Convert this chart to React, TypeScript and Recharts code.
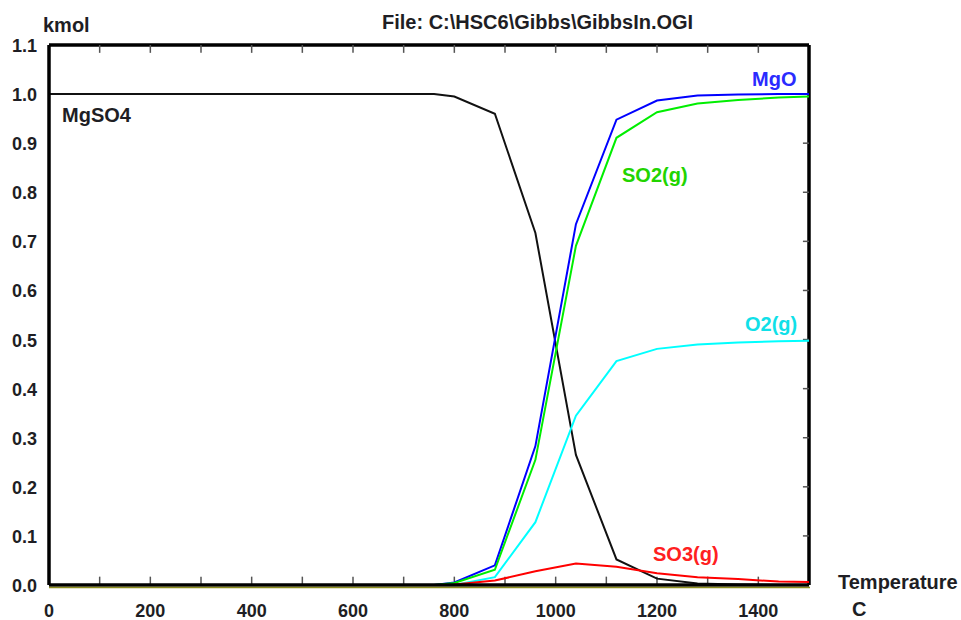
import React from 'react';
import { LineChart, Line, XAxis, YAxis, ReferenceLine } from 'recharts';

// temperatures (C) and amounts (kmol)
const temps = [0, 80, 160, 240, 320, 400, 480, 560, 640, 720, 760, 800, 880, 960, 1040, 1120, 1200, 1280, 1360, 1440, 1500];
const mgso4 = [1, 1, 1, 1, 1, 1, 1, 1, 1, 1, 1, 0.995, 0.96, 0.717, 0.265, 0.052, 0.013, 0.003, 0.001, 0, 0];
const mgo = [null, null, null, null, null, null, null, null, null, null, 0, 0.005, 0.04, 0.283, 0.735, 0.948, 0.987, 0.997, 0.999, 1, 1];
const so2 = [null, null, null, null, null, null, null, null, null, null, 0, 0.004, 0.031, 0.255, 0.691, 0.911, 0.963, 0.981, 0.988, 0.993, 0.995];
const o2 = [null, null, null, null, null, null, null, null, null, null, null, 0, 0.016, 0.128, 0.345, 0.456, 0.481, 0.49, 0.494, 0.4965, 0.4975];
const so3 = [null, null, null, null, null, null, null, null, null, null, null, 0.001, 0.009, 0.028, 0.044, 0.037, 0.024, 0.016, 0.012, 0.007, 0.006];

const xTicks = [0, 200, 400, 600, 800, 1000, 1200, 1400];
const xMinor = [100, 200, 300, 400, 500, 600, 700, 800, 900, 1000, 1100, 1200, 1300, 1400];
const yTicks = [0, 0.1, 0.2, 0.3, 0.4, 0.5, 0.6, 0.7, 0.8, 0.9, 1.0, 1.1];
const yMinor = [0.1, 0.2, 0.3, 0.4, 0.5, 0.6, 0.7, 0.8, 0.9, 1.0];

const data = temps.map((t, i) => ({
  t,
  MgSO4: mgso4[i],
  MgO: mgo[i],
  SO2: so2[i],
  O2: o2[i],
  SO3: so3[i],
}));

const FONT = '"Liberation Sans", Arial, sans-serif';
const TXT = '#1e1e24';
const axisStyle = { stroke: '#000', strokeWidth: 3.5 };
const MARK = '#555';

const BottomTick = ({ x, y, payload }: any) => (
  <text x={x} y={y + 32} textAnchor="middle" fontFamily={FONT} fontWeight="bold" fontSize={18} fill={TXT}>
    {payload.value}
  </text>
);

const LeftTick = ({ x, y, payload }: any) => (
  <text x={x - 12} y={y + 7} textAnchor="end" fontFamily={FONT} fontWeight="bold" fontSize={18} fill={TXT}>
    {payload.value.toFixed(1)}
  </text>
);

const labels = [
  { text: 'kmol', x: 43, y: 32, color: TXT },
  { text: 'File: C:\\HSC6\\Gibbs\\GibbsIn.OGI', x: 382, y: 29, color: TXT },
  { text: 'MgSO4', x: 62, y: 122, color: TXT },
  { text: 'MgO', x: 752, y: 86, color: '#2b2bff' },
  { text: 'SO2(g)', x: 622, y: 182, color: '#22d400' },
  { text: 'O2(g)', x: 745, y: 331, color: '#10e0e8' },
  { text: 'SO3(g)', x: 653, y: 561, color: '#ff2020' },
  { text: 'Temperature', x: 838, y: 589, color: TXT },
  { text: 'C', x: 852, y: 616, color: TXT },
];

export default function App() {
  return (
    <div style={{ position: 'absolute', left: 0, top: 0, width: 961, height: 620, background: '#fff' }}>
      <LineChart width={961} height={620} data={data} margin={{ top: 45, right: 152, bottom: 0, left: 0 }}>
        <XAxis
          dataKey="t"
          type="number"
          domain={[0, 1500]}
          ticks={xTicks}
          interval={0}
          height={35}
          tickSize={0}
          tickMargin={0}
          tickLine={false}
          tick={<BottomTick />}
          axisLine={axisStyle}
        />
        <YAxis
          type="number"
          domain={[0, 1.1]}
          ticks={yTicks}
          interval={0}
          width={49}
          tickSize={0}
          tickMargin={0}
          tickLine={false}
          tick={<LeftTick />}
          axisLine={axisStyle}
        />
        {/* frame: top and right edges */}
        <ReferenceLine y={1.1} stroke="#000" strokeWidth={3.5} />
        <ReferenceLine x={1500} stroke="#000" strokeWidth={3.5} />
        {/* small inward tick marks */}
        {xMinor.map((v) => (
          <ReferenceLine key={'b' + v} segment={[{ x: v, y: 0 }, { x: v, y: 0.017 }]} stroke={MARK} strokeWidth={1.5} />
        ))}
        {xMinor.map((v) => (
          <ReferenceLine key={'t' + v} segment={[{ x: v, y: 1.1 }, { x: v, y: 1.084 }]} stroke={MARK} strokeWidth={1.5} />
        ))}
        {yMinor.map((v) => (
          <ReferenceLine key={'r' + v} segment={[{ x: 1500, y: v }, { x: 1488, y: v }]} stroke={MARK} strokeWidth={1.5} />
        ))}
        <Line dataKey="MgSO4" stroke="#111" strokeWidth={2} dot={false} isAnimationActive={false} />
        <Line dataKey="MgO" stroke="#0000ff" strokeWidth={2} dot={false} isAnimationActive={false} />
        <Line dataKey="SO2" stroke="#00ee00" strokeWidth={2} dot={false} isAnimationActive={false} />
        <Line dataKey="O2" stroke="#00ffff" strokeWidth={2} dot={false} isAnimationActive={false} />
        <Line dataKey="SO3" stroke="#ff0000" strokeWidth={2} dot={false} isAnimationActive={false} />
      </LineChart>
      <svg width={961} height={620} style={{ position: 'absolute', left: 0, top: 0, pointerEvents: 'none' }}>
        <line x1={49} x2={810} y1={587.5} y2={587.5} stroke="#8c8c1e" strokeWidth={1.5} />
        {labels.map((l) => (
          <text key={l.text} x={l.x} y={l.y} fontFamily={FONT} fontWeight="bold" fontSize={20} fill={l.color}>
            {l.text}
          </text>
        ))}
      </svg>
    </div>
  );
}
